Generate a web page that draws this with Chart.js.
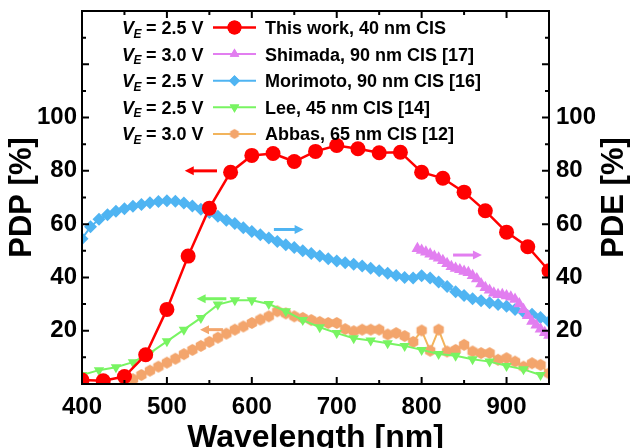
<!DOCTYPE html>
<html>
<head>
<meta charset="utf-8">
<script src="https://cdn.jsdelivr.net/npm/chart.js@4/dist/chart.umd.min.js"></script>
<style>
  body { margin: 0; background: #fff; }
  canvas { display: block; }
</style>
</head>
<body>
<canvas id="chart" width="630" height="448"></canvas>
<script>
// --- data ---
const redX = [400, 425, 450, 475, 500, 525, 550, 575, 600, 625, 650, 675, 700, 725, 750, 775, 800, 825, 850, 875, 900, 925, 950];
const redY = [1.5, 1.2, 2.8, 11, 28, 48, 66, 79.5, 85.8, 86.5, 83.5, 87.3, 89.5, 88.3, 86.8, 87, 79.5, 77.2, 72, 65, 57, 51.5, 42.5];

const shimadaX = [795, 800, 805, 810, 815, 820, 825, 830, 835, 840, 845, 850, 855, 860, 865, 870, 875, 880, 885, 890, 895, 900, 905, 910, 915, 920, 925, 930, 935, 940, 945, 950];
const shimadaY = [50.8, 50.2, 49.5, 48.8, 47.9, 47.3, 46.3, 45.2, 44.1, 43.4, 42.9, 42.3, 41.8, 40.7, 39.5, 37.6, 36.2, 35.2, 34.1, 33.6, 33.6, 33.1, 32.6, 31.8, 30.1, 27.9, 25.7, 23.5, 22.1, 20.6, 19.3, 18.3];

const morimotoX = [400, 410, 420, 430, 440, 450, 460, 470, 480, 490, 500, 510, 520, 530, 540, 550, 560, 570, 580, 590, 600, 610, 620, 630, 640, 650, 660, 670, 680, 690, 700, 710, 720, 730, 740, 750, 760, 770, 780, 790, 800, 810, 820, 830, 840, 850, 860, 870, 880, 890, 900, 910, 920, 930, 940, 950];
const morimotoY = [54.5, 59, 61.8, 63.5, 64.8, 65.8, 66.7, 67.4, 68, 68.5, 68.8, 68.6, 67.9, 66.8, 65.6, 64.4, 63, 61.5, 60.2, 58.6, 57.2, 56, 54.8, 53.5, 52.3, 51.2, 50, 49, 48, 47, 46.2, 45.5, 44.9, 44.3, 43.4, 42.5, 41.6, 40.7, 40, 39.8, 40.6, 39.8, 38.3, 36.6, 34.6, 33.2, 32, 31.2, 30.5, 29.8, 29.2, 28, 27, 26.2, 25, 23.5];

const leeX = [400, 420, 440, 460, 480, 500, 520, 540, 560, 580, 600, 620, 640, 660, 680, 700, 720, 740, 760, 780, 800, 820, 840, 860, 880, 900, 920, 940];
const leeY = [3.4, 5.2, 6.3, 8.2, 11.6, 16, 20.4, 24.8, 29.8, 31.4, 31.4, 30, 27.3, 24, 21.3, 19.1, 17.2, 16.3, 15.3, 14.3, 12.8, 11.3, 10.6, 9.3, 8.4, 6.8, 5.5, 3.4];

const abbasX = [450, 460, 470, 480, 490, 500, 510, 520, 530, 540, 550, 560, 570, 580, 590, 600, 610, 620, 630, 640, 650, 660, 670, 680, 690, 700, 710, 720, 730, 740, 750, 760, 770, 780, 790, 800, 810, 820, 830, 840, 850, 860, 870, 880, 890, 900, 910, 920, 930, 940, 950];
const abbasY = [0.6, 1.8, 3.4, 5, 6.5, 8, 9.5, 11.2, 12.8, 14.3, 15.8, 17.4, 18.9, 20.4, 21.6, 22.9, 24.2, 25.4, 27.3, 26.5, 25.4, 24.8, 24, 23.3, 22.9, 22.9, 20.6, 19.8, 20.4, 20.4, 20.4, 18.6, 19.1, 18, 15.8, 20.1, 12.5, 20.4, 12.2, 12.8, 14.7, 12.2, 11.6, 11.6, 9.1, 9.7, 8.4, 6.5, 7.8, 7.2, 4];

const xTicks = [400, 500, 600, 700, 800, 900];
const yTicks = [20, 40, 60, 80, 100];

const FONT = 'Arial, "Liberation Sans", sans-serif';
const RED = '#ff0000', PINK = '#e27ef0', BLUE = '#4fb4f2', GREEN = '#78f462', ORANGE = '#f3a56c', ORANGE_LINE = '#f2b45c';

const pts = (xs, ys) => xs.map((x, i) => ({ x: x, y: ys[i] }));

// hexagon marker for the Abbas series
function hexagon(r, color) {
  const c = document.createElement('canvas');
  c.width = c.height = 2 * r + 2;
  const g = c.getContext('2d');
  g.fillStyle = color;
  g.beginPath();
  for (let i = 0; i < 6; i++) {
    const a = Math.PI / 6 + i * Math.PI / 3;
    const px = r + 1 + r * Math.cos(a), py = r + 1 + r * Math.sin(a);
    i ? g.lineTo(px, py) : g.moveTo(px, py);
  }
  g.closePath();
  g.fill();
  return c;
}
const hexBig = hexagon(6, ORANGE);
const hexSmall = hexagon(5, ORANGE);

const series = [
  { label: 'This work, 40 nm CIS', ve: '2.5', data: pts(redX, redY), color: RED, line: RED, style: 'circle', r: 7.5, bw: 2.5, legR: 7 },
  { label: 'Lee, 45 nm CIS [14]', ve: '2.5', data: pts(leeX, leeY), color: GREEN, line: GREEN, style: 'triangle', rot: 180, r: 6, bw: 2, legR: 5.5 },
  { label: 'Shimada, 90 nm CIS [17]', ve: '3.0', data: pts(shimadaX, shimadaY), color: PINK, line: PINK, style: 'triangle', r: 6.8, bw: 2, legR: 5.5 },
  { label: 'Morimoto, 90 nm CIS [16]', ve: '2.5', data: pts(morimotoX, morimotoY), color: BLUE, line: BLUE, style: 'rectRot', r: 6.5, bw: 2, legR: 5.5 },
  { label: 'Abbas, 65 nm CIS [12]', ve: '3.0', data: pts(abbasX, abbasY), color: ORANGE, line: ORANGE_LINE, style: hexBig, r: 6, bw: 2, legR: 5 }
];
const legendOrder = [0, 2, 3, 1, 4];

// arrows: [x1, x2, y, direction, color]  (data coordinates)
const arrows = [
  [521, 559, 80, -1, RED],
  [626, 661, 58, 1, BLUE],
  [535, 570, 32, -1, GREEN],
  [539, 566, 20.4, -1, ORANGE],
  [837, 871, 48.4, 1, PINK]
];

const decor = {
  id: 'decor',
  afterDraw(chart) {
    const ctx = chart.ctx, a = chart.chartArea;
    const xs = chart.scales.x, ys = chart.scales.y;
    ctx.save();

    // arrows
    arrows.forEach(([x1, x2, y, dir, col]) => {
      const p1 = xs.getPixelForValue(x1), p2 = xs.getPixelForValue(x2), py = ys.getPixelForValue(y);
      const tip = dir < 0 ? p1 : p2, tail = dir < 0 ? p2 : p1;
      ctx.strokeStyle = col; ctx.fillStyle = col; ctx.lineWidth = 3;
      ctx.beginPath(); ctx.moveTo(tail, py); ctx.lineTo(tip - dir * 6, py); ctx.stroke();
      ctx.beginPath();
      ctx.moveTo(tip, py); ctx.lineTo(tip - dir * 9, py - 4.5); ctx.lineTo(tip - dir * 9, py + 4.5);
      ctx.closePath(); ctx.fill();
    });

    // frame
    ctx.strokeStyle = '#000'; ctx.lineWidth = 2;
    ctx.strokeRect(a.left, a.top, a.right - a.left, a.bottom - a.top);

    // inward ticks on all four sides
    ctx.lineWidth = 2;
    for (let v = 400; v <= 950; v += 50) {
      const px = xs.getPixelForValue(v), len = v % 100 === 0 ? 7 : 4;
      ctx.beginPath();
      ctx.moveTo(px, a.bottom); ctx.lineTo(px, a.bottom - len);
      ctx.moveTo(px, a.top); ctx.lineTo(px, a.top + len);
      ctx.stroke();
    }
    for (let v = 0; v <= 140; v += 10) {
      const py = ys.getPixelForValue(v), len = v % 20 === 0 ? 7 : 4;
      ctx.beginPath();
      ctx.moveTo(a.left, py); ctx.lineTo(a.left + len, py);
      ctx.moveTo(a.right, py); ctx.lineTo(a.right - len, py);
      ctx.stroke();
    }

    // axis titles
    ctx.fillStyle = '#000';
    ctx.font = 'bold 32px ' + FONT;
    ctx.textAlign = 'center'; ctx.textBaseline = 'alphabetic';
    ctx.fillText('Wavelength [nm]', (a.left + a.right) / 2, 447);
    ctx.font = 'bold 31px ' + FONT;
    ctx.textBaseline = 'middle';
    [[22.5, 'PDP [%]'], [614, 'PDE [%]']].forEach(([tx, t]) => {
      ctx.save();
      ctx.translate(tx, (a.top + a.bottom) / 2);
      ctx.rotate(-Math.PI / 2);
      ctx.fillText(t, 0, 0);
      ctx.restore();
    });

    // legend with V_E prefixes
    ctx.textAlign = 'left'; ctx.textBaseline = 'alphabetic';
    legendOrder.forEach((k, i) => {
      const s = series[k], yc = 27.5 + i * 26.6;
      ctx.fillStyle = '#000';
      ctx.font = 'italic bold 18px ' + FONT;
      ctx.fillText('V', 122, yc + 6.5);
      ctx.font = 'italic bold 12px ' + FONT;
      ctx.fillText('E', 133.5, yc + 10);
      ctx.font = 'bold 18px ' + FONT;
      ctx.fillText('= ' + s.ve + ' V', 146, yc + 6.5);
      ctx.fillText(s.label, 265, yc + 6.5);
      ctx.strokeStyle = s.line; ctx.lineWidth = s.bw;
      ctx.beginPath(); ctx.moveTo(213, yc); ctx.lineTo(256, yc); ctx.stroke();
      if (s.style === hexBig) {
        ctx.drawImage(hexSmall, 234.5 - hexSmall.width / 2, yc - hexSmall.height / 2);
      } else {
        ctx.fillStyle = s.color;
        Chart.helpers.drawPoint(ctx, { pointStyle: s.style, radius: s.legR, rotation: s.rot || 0, borderWidth: 0 }, 234.5, yc);
        ctx.fill();
      }
    });
    ctx.restore();
  }
};

// keep the plot box fixed: no extra padding for half tick labels
const fixPad = (w, h) => s => {
  if (w) s.width = w;
  if (h) s.height = h;
  s.paddingTop = s.paddingBottom = s.paddingLeft = s.paddingRight = 0;
};

new Chart(document.getElementById('chart'), {
  type: 'line',
  data: {
    datasets: series.map(s => ({
      label: s.label,
      data: s.data,
      borderColor: s.line,
      backgroundColor: s.color,
      borderWidth: s.bw,
      pointStyle: s.style,
      pointRotation: s.rot || 0,
      pointRadius: s.r,
      pointBackgroundColor: s.color,
      pointBorderColor: s.color,
      pointBorderWidth: 0,
      fill: false,
      tension: 0,
      clip: 0
    }))
  },
  options: {
    responsive: false,
    animation: false,
    layout: { padding: { top: 11, left: 0, right: 0, bottom: 0 } },
    plugins: { legend: { display: false }, tooltip: { enabled: false } },
    scales: {
      x: {
        type: 'linear', min: 400, max: 950,
        afterFit: fixPad(0, 64),
        grid: { display: false, drawTicks: false },
        border: { display: false },
        afterBuildTicks: s => { s.ticks = xTicks.map(v => ({ value: v })); },
        ticks: { color: '#000', padding: 9, maxRotation: 0, font: { family: FONT, size: 24, weight: 'bold' } }
      },
      y: {
        position: 'left', min: 0, max: 140,
        afterFit: fixPad(82, 0),
        grid: { display: false, drawTicks: false },
        border: { display: false },
        afterBuildTicks: s => { s.ticks = yTicks.map(v => ({ value: v })); },
        ticks: { color: '#000', padding: 5, font: { family: FONT, size: 24, weight: 'bold' } }
      },
      y2: {
        position: 'right', min: 0, max: 140,
        afterFit: fixPad(81, 0),
        grid: { display: false, drawTicks: false },
        border: { display: false },
        afterBuildTicks: s => { s.ticks = yTicks.map(v => ({ value: v })); },
        ticks: { color: '#000', padding: 7, font: { family: FONT, size: 24, weight: 'bold' } }
      }
    }
  },
  plugins: [decor]
});
</script>
</body>
</html>
